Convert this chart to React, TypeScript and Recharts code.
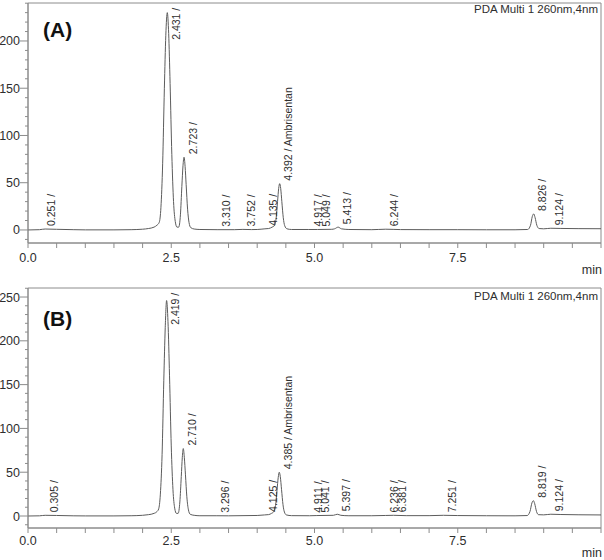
import React from "react";
import { LineChart, Line, XAxis, YAxis, ReferenceDot, ReferenceArea } from "recharts";

// chromatogram (A): retention time (min) and detector signal (mAU)
const timesA = [
  0, 0.2, 0.3, 0.5, 0.8, 1.0, 1.5, 1.8, 2.0, 2.1, 2.2, 2.25, 2.29, 2.32, 2.35, 2.38, 2.405,
  2.431, 2.455, 2.48, 2.51, 2.54, 2.57, 2.6, 2.63, 2.66, 2.685, 2.705, 2.723, 2.742, 2.76,
  2.785, 2.81, 2.84, 2.9, 3.0, 3.3, 3.6, 3.75, 3.9, 4.0, 4.135, 4.2, 4.26, 4.3, 4.33, 4.355,
  4.375, 4.392, 4.41, 4.43, 4.455, 4.48, 4.52, 4.6, 4.9, 5.05, 5.3, 5.35, 5.413, 5.47, 5.6,
  6.0, 6.244, 6.5, 7.0, 7.5, 8.0, 8.5, 8.72, 8.77, 8.8, 8.826, 8.85, 8.88, 8.92, 9.0, 9.124,
  9.3, 9.6, 10.0,
];
const signalA = [
  0, 0.3, 1.0, 0.7, 0.3, 0.1, 0.1, 0.3, 0.8, 1.5, 3, 5, 8, 24, 70, 150, 206,
  230, 208, 155, 80, 30, 9, 3, 3, 16, 46, 68, 77, 67, 48,
  22, 8, 2.5, 1, 0.5, 0.3, 0.3, 0.6, 0.4, 0.5, 1.2, 1.5, 3, 4.5, 12, 30,
  44, 49, 44, 30, 13, 4.5, 1.2, 0.5, 0.5, 0.5, 0.7, 1.2, 3, 1.2, 0.5,
  0.3, 0.8, 0.4, 0.3, 0.3, 0.2, 0.2, 0.5, 5, 14, 17, 13, 5, 1.5, 1.2, 1.8,
  1.6, 1.4, 1.3,
];
const peakTimesA = [0.251, 2.431, 2.723, 3.31, 3.752, 4.135, 4.392, 4.917, 5.049, 5.413, 6.244, 8.826, 9.124];
const peakLevelsA = [1, 230, 77, 0.3, 0.6, 1.2, 49, 0.5, 0.5, 3, 0.8, 17, 1.8];
const peakNamesA = [
  "0.251 /", "2.431 /", "2.723 /", "3.310 /", "3.752 /", "4.135 /", "4.392 / Ambrisentan",
  "4.917 /", "5.049 /", "5.413 /", "6.244 /", "8.826 /", "9.124 /",
];

// chromatogram (B)
const timesB = [
  0, 0.2, 0.3, 0.5, 0.8, 1.0, 1.5, 1.8, 2.0, 2.1, 2.2, 2.25, 2.28, 2.31, 2.34, 2.37, 2.395,
  2.419, 2.443, 2.47, 2.5, 2.53, 2.56, 2.59, 2.62, 2.65, 2.675, 2.693, 2.71, 2.728, 2.748,
  2.772, 2.8, 2.83, 2.9, 3.0, 3.296, 3.5, 4.0, 4.125, 4.2, 4.25, 4.29, 4.32, 4.345, 4.367,
  4.385, 4.403, 4.425, 4.45, 4.475, 4.51, 4.6, 4.911, 5.041, 5.33, 5.397, 5.46, 5.6, 6.0,
  6.236, 6.381, 6.6, 7.0, 7.251, 7.5, 8.0, 8.5, 8.71, 8.76, 8.795, 8.819, 8.843, 8.875,
  8.91, 9.0, 9.124, 9.3, 9.6, 10.0,
];
const signalB = [
  0, 0.2, 0.8, 0.6, 0.2, 0.1, 0.1, 0.3, 0.8, 1.5, 3, 5, 8, 25, 70, 155, 215,
  246, 222, 160, 80, 30, 9, 3, 3, 16, 45, 67, 77, 67, 47,
  22, 7, 2, 0.8, 0.3, 0.3, 0.2, 0.6, 1.2, 1.6, 3, 5, 12, 29, 44,
  50, 45, 30, 13, 4.5, 1.2, 0.4, 0.3, 0.5, 0.8, 2, 0.8, 0.3, 0.3,
  0.6, 0.8, 0.4, 0.4, 0.8, 0.5, 0.3, 0.2, 0.5, 5, 15, 17.5, 14, 5,
  1.5, 1.3, 2, 1.7, 1.4, 1.2,
];
const peakTimesB = [0.305, 2.419, 2.71, 3.296, 4.125, 4.385, 4.911, 5.041, 5.397, 6.236, 6.381, 7.251, 8.819, 9.124];
const peakLevelsB = [0.8, 246, 77, 0.3, 1.2, 50, 0.3, 0.5, 2, 0.6, 0.8, 0.8, 17.5, 2];
const peakNamesB = [
  "0.305 /", "2.419 /", "2.710 /", "3.296 /", "4.125 /", "4.385 / Ambrisentan",
  "4.911 /", "5.041 /", "5.397 /", "6.236 /", "6.381 /", "7.251 /", "8.819 /", "9.124 /",
];

const xMajorTicks = [0, 2.5, 5, 7.5];
const xMinorStep = 0.5;
const yMajorA = [0, 50, 100, 150, 200];
const yMajorB = [0, 50, 100, 150, 200, 250];
const yMinorStep = 10;

const FONT = "'Liberation Sans', Arial, sans-serif";
const INK = "#2e2e2e";
const TRACE = "#5c5c5c";
const FRAME = "#8c8c8c";
const TICK_FONT = 12.5;

const steps = (from: number, to: number, step: number) => {
  const out: number[] = [];
  for (let v = from; v <= to + 1e-9; v += step) out.push(Math.round(v * 100) / 100);
  return out;
};

const makeXTick = (gap: number) => (props: any) => {
  const { x, y, payload } = props;
  const major = xMajorTicks.includes(payload.value);
  return (
    <g>
      <line x1={x} x2={x} y1={y} y2={y + 5} stroke={FRAME} />
      {major && (
        <text x={x} y={y + gap} textAnchor="middle" fontSize={TICK_FONT} fill={INK} fontFamily={FONT}>
          {payload.value.toFixed(1)}
        </text>
      )}
    </g>
  );
};

const makeYTick = (majors: number[]) => (props: any) => {
  const { x, y, payload } = props;
  const major = majors.includes(payload.value);
  return (
    <g>
      <line x1={major ? x - 8 : x - 3} x2={x} y1={y} y2={y} stroke={FRAME} />
      {major && (
        <text x={x - 8} y={y + 4.5} textAnchor="end" fontSize={TICK_FONT} fill={INK} fontFamily={FONT}>
          {payload.value}
        </text>
      )}
    </g>
  );
};

function PeakLabel(props: any) {
  const { viewBox, text, top } = props;
  if (!viewBox) return null;
  const cx = viewBox.x + (viewBox.width || 0) / 2;
  const cy = viewBox.y + (viewBox.height || 0) / 2;
  const len = text.length * 0.46 * 10.5;
  const by = Math.max(cy - 3, top + len + 3);
  const ax = cx + 12.5;
  return (
    <text
      x={ax}
      y={by}
      transform={`rotate(-90 ${ax} ${by})`}
      fontSize={10.5}
      fill={INK}
      fontFamily={FONT}
    >
      {text}
    </text>
  );
}

interface ChromProps {
  times: number[];
  signal: number[];
  peakTimes: number[];
  peakLevels: number[];
  peakNames: string[];
  yDomain: [number, number];
  yMajors: number[];
  top: number;
  xHeight: number;
  labelGap: number;
  tag: string;
  tagY: number;
  infoY: number;
  minY: number;
}

function Chromatogram(p: ChromProps) {
  const data = p.times.map((t, i) => ({ t, v: p.signal[i] }));
  const yTicks = steps(-10, p.yDomain[1], yMinorStep);
  return (
    <div style={{ position: "relative", width: 604, height: 280 }}>
      <LineChart
        width={604}
        height={280}
        data={data}
        margin={{ top: p.top, right: 3, bottom: 0, left: 0 }}
      >
        <XAxis
          dataKey="t"
          type="number"
          domain={[0, 10]}
          ticks={steps(0, 10, xMinorStep)}
          interval={0}
          height={p.xHeight}
          tickSize={0}
          tickMargin={0}
          tickLine={false}
          axisLine={{ stroke: FRAME }}
          tick={makeXTick(p.labelGap)}
        />
        <YAxis
          type="number"
          domain={p.yDomain}
          allowDataOverflow
          ticks={yTicks}
          interval={0}
          width={28}
          tickSize={0}
          tickMargin={0}
          tickLine={false}
          axisLine={{ stroke: FRAME }}
          tick={makeYTick(p.yMajors)}
        />
        <ReferenceArea
          x1={0}
          x2={10}
          y1={p.yDomain[0]}
          y2={p.yDomain[1]}
          fill="none"
          stroke={FRAME}
          ifOverflow="visible"
        />
        <Line
          type="monotone"
          dataKey="v"
          stroke={TRACE}
          strokeWidth={1}
          dot={false}
          isAnimationActive={false}
        />
        {p.peakTimes.map((t, i) => (
          <ReferenceDot
            key={i}
            x={t}
            y={p.peakLevels[i]}
            r={1}
            fill="none"
            stroke="none"
            label={<PeakLabel text={p.peakNames[i]} top={p.top} />}
          />
        ))}
      </LineChart>
      <svg
        width={604}
        height={280}
        style={{ position: "absolute", left: 0, top: 0, pointerEvents: "none" }}
      >
        <text x={43} y={p.tagY} fontSize={21} fontWeight="bold" fill="#111" fontFamily={FONT}>
          {p.tag}
        </text>
        <text x={598} y={p.infoY} textAnchor="end" fontSize={11.5} fill={INK} fontFamily={FONT}>
          PDA Multi 1 260nm,4nm
        </text>
        <text x={602} y={p.minY} textAnchor="end" fontSize={TICK_FONT} fill={INK} fontFamily={FONT}>
          min
        </text>
      </svg>
    </div>
  );
}

export default function App() {
  return (
    <div style={{ position: "absolute", left: 0, top: 0, width: 604, height: 560, background: "#fff" }}>
      <Chromatogram
        times={timesA}
        signal={signalA}
        peakTimes={peakTimesA}
        peakLevels={peakLevelsA}
        peakNames={peakNamesA}
        yDomain={[-13.8, 240.2]}
        yMajors={yMajorA}
        top={3}
        xHeight={37}
        labelGap={18.5}
        tag="(A)"
        tagY={37}
        infoY={13}
        minY={274}
      />
      <Chromatogram
        times={timesB}
        signal={signalB}
        peakTimes={peakTimesB}
        peakLevels={peakLevelsB}
        peakNames={peakNamesB}
        yDomain={[-13.7, 260.3]}
        yMajors={yMajorB}
        top={8}
        xHeight={32}
        labelGap={16.5}
        tag="(B)"
        tagY={46}
        infoY={20}
        minY={277}
      />
    </div>
  );
}
